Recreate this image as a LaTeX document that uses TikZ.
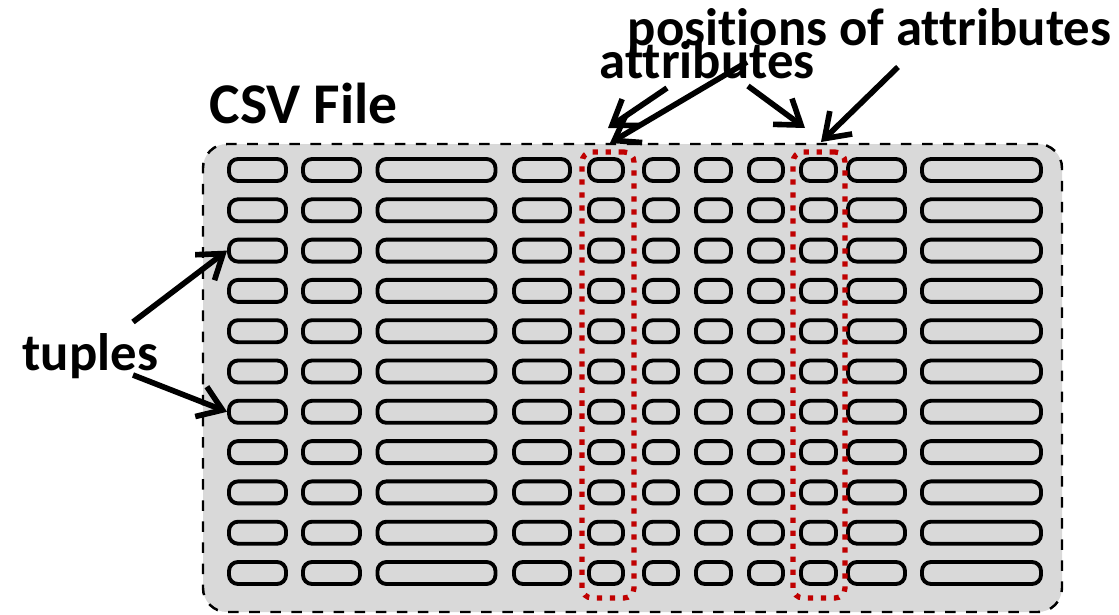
\documentclass[tikz,border=0pt]{standalone}
\usepackage{fontspec}
\setmainfont{Carlito}[Ligatures=NoCommon]
\usepackage{tikz}
\usetikzlibrary{arrows.meta}
\definecolor{selred}{HTML}{C00000}

\begin{document}
\begin{tikzpicture}[
  label/.style={inner sep=0pt, anchor=base west, font=\fontsize{15}{18}\selectfont\bfseries},
  title/.style={inner sep=0pt, anchor=base west, font=\fontsize{16.4}{20}\selectfont\bfseries},
  csvframe/.style={rectangle, draw, dashed, line width=0.7pt, fill=black!15,
                   rounded corners=0.24cm},
  cell/.style={rectangle, draw, line width=1.1pt, rounded corners=0.09cm,
               minimum height=0.22cm, inner sep=0pt},
  selbox/.style={rectangle, draw=selred, line width=1.5pt, rounded corners=0.1cm,
                 dash pattern=on 1.5pt off 2.2pt, inner sep=0pt},
  arrow/.style={-{Straight Barb[length=2.3mm, width=3.2mm]}, line width=1.6pt}
]
\useasboundingbox (0,0) rectangle (11.19,6.14);

%% File frame
\node[csvframe, minimum width=8.59cm, minimum height=4.68cm] (csv) at (6.325, 2.36) {};

%% Cells: column centre / width, 11 tuples each
\foreach \cx/\cw [count=\c] in {2.575/0.57, 3.315/0.57, 4.365/1.18, 5.42/0.56,
    6.06/0.34, 6.61/0.34, 7.135/0.35, 7.66/0.34, 8.185/0.35, 8.765/0.57, 9.815/1.19}
  \foreach \r in {1,...,11}
    \node[cell, minimum width=\cw cm] (c\c-\r) at (\cx, 4.843-0.403*\r) {};

%% Selected attribute columns
\node[selbox, minimum width=0.52cm, minimum height=4.46cm] (sel1) at (6.08, 2.39) {};
\node[selbox, minimum width=0.52cm, minimum height=4.46cm] (sel2) at (8.19, 2.39) {};

%% Labels
\node[title] (csvlbl) at (2.09, 4.91) {CSV File};
\node[label] (tup)  at (0.22, 2.44) {tuples};
\node[label] (attr) at (5.99, 5.36) {attributes};
\node[label] (pos)  at (6.27, 5.69) {positions of attributes};

%% Arrow ends
\coordinate (t1s) at (1.33, 2.92);
\coordinate (t2s) at (1.33, 2.39);
\coordinate (a1s) at (6.67, 5.26);
\coordinate (a1e) at (6.08, 4.86);
\coordinate (a2s) at (7.48, 5.28);
\coordinate (a2e) at (8.05, 4.86);
\coordinate (p1s) at (7.47, 5.52);
\coordinate (p1e) at (6.10, 4.71);
\coordinate (p2s) at (8.98, 5.47);
\coordinate (p2e) at (8.21, 4.72);

%% tuples
\draw[arrow] (t1s) -- (c1-3.west);
\draw[arrow] (t2s) -- (c1-7.west);

%% attributes / positions
\draw[arrow] (a1s) -- (a1e);
\draw[arrow] (a2s) -- (a2e);
\draw[arrow] (p1s) -- (p1e);
\draw[arrow] (p2s) -- (p2e);
\end{tikzpicture}
\end{document}
